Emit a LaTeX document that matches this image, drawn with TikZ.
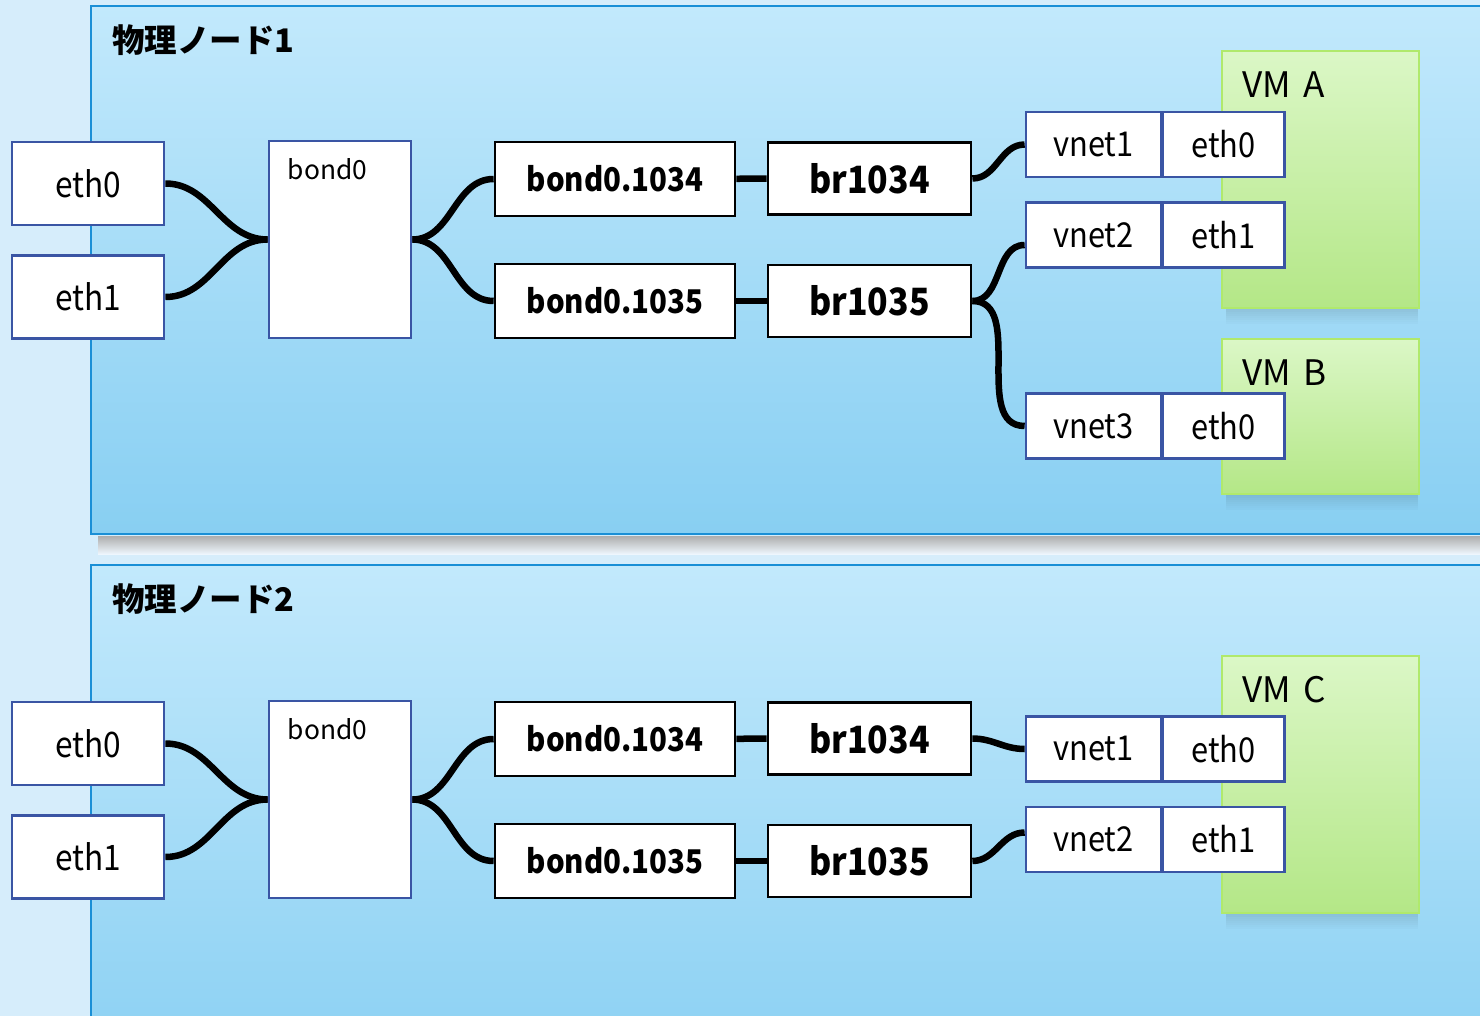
\documentclass[tikz,border=0pt]{standalone}
\usepackage{fontspec}
\setmainfont{Noto Sans CJK JP}
\newfontfamily\narrowsans[FakeStretch=0.9]{Noto Sans CJK JP}
\usepackage{xcolor}
\usepackage{tikz}
\usetikzlibrary{positioning}
\definecolor{pagebg}{HTML}{D6EDFB}
\definecolor{pagebgb}{HTML}{EEF6FD}
\definecolor{panelc}{HTML}{1A8FD6}
\definecolor{paneltop}{HTML}{C2E9FC}
\definecolor{panelbot}{HTML}{88CFF2}
\definecolor{vmtop}{HTML}{DBF7C6}
\definecolor{vmbot}{HTML}{B4E787}
\definecolor{vmline}{HTML}{B0E96C}
\definecolor{portc}{HTML}{3A55A4}
\tikzset{
  panel/.style={draw=panelc,line width=1.2pt,top color=paneltop,bottom color=panelbot},
  ttl/.style={anchor=west,inner sep=0pt,font=\bfseries\fontsize{18.5}{22}\selectfont},
  port/.style={draw=portc,line width=1.6pt,fill=white,inner sep=0pt,minimum width=3.04cm,minimum height=1.66cm,font=\narrowsans\fontsize{20}{24}\selectfont},
  bondbox/.style={draw=portc,line width=1.6pt,fill=white,minimum width=2.84cm,minimum height=3.94cm},
  vlan/.style={draw=black,line width=1.6pt,fill=white,inner sep=0pt,minimum width=4.8cm,minimum height=1.48cm,font=\narrowsans\bfseries\fontsize{18.6}{22}\selectfont},
  brbox/.style={draw=black,line width=1.6pt,fill=white,inner sep=0pt,minimum width=4.06cm,minimum height=1.44cm,font=\narrowsans\bfseries\fontsize{21.4}{25}\selectfont},
  vnet/.style={draw=portc,line width=1.6pt,fill=white,inner sep=0pt,minimum width=2.7cm,minimum height=1.3cm,font=\narrowsans\fontsize{19.5}{23}\selectfont},
  veth/.style={vnet,minimum width=2.44cm},
  vmbox/.style={draw=vmline,line width=1.2pt,top color=vmtop,bottom color=vmbot,minimum width=3.94cm},
  vmlab/.style={anchor=north west,inner sep=0pt,xshift=0.42cm,yshift=-0.42cm,font=\fontsize{20}{24}\selectfont},
  wire/.style={line width=3.7pt,black}
}
\begin{document}
\begin{tikzpicture}[x=0.02cm,y=-0.02cm]
\useasboundingbox (0,0) rectangle (1480,1016);
\clip (0,0) rectangle (1480,1016);
\shade[top color=pagebg,middle color=pagebgb,bottom color=pagebg] (0,0) rectangle (1480,1016);
% physical nodes
\foreach \p/\dy in {1/0,2/559}{
 \shade[top color=black!32,bottom color=pagebgb] (98,536+\dy) rectangle (1490,554+\dy);
 \draw[panel] (91,6+\dy) rectangle (1500,534+\dy);
 \node[ttl] (title\p) at (112,40+\dy) {物理ノード\p};}
% VM boxes
\foreach \yy in {308,494,913}{
 \foreach \k in {0,...,7}
  \fill[black,opacity={0.11*(1-\k/8)}] (1226,\yy+2*\k) rectangle (1418,\yy+2*\k+2);}
\node[vmbox,minimum height=5.14cm,label={[vmlab]north west:VM\hspace{0.35em}A}] (vma) at (1320.5,179.5) {};
\node[vmbox,minimum height=3.10cm,label={[vmlab]north west:VM\hspace{0.35em}B}] (vmb) at (1320.5,416.5) {};
\node[vmbox,minimum height=5.14cm,label={[vmlab]north west:VM\hspace{0.35em}C}] (vmc) at (1320.5,784.5) {};
% host side
\foreach \p/\dy in {1/0,2/560}{
 \node[port] (eth0-\p) at (88,183.5+\dy) {eth0};
 \node[port] (eth1-\p) at (88,297+\dy) {eth1};
 \node[bondbox,label={[anchor=north west,inner sep=0pt,xshift=0.4cm,yshift=-0.38cm,font=\fontsize{15}{18}\selectfont]north west:bond0}] (bond-\p) at (340,239.5+\dy) {};
 \node[vlan] (v34-\p) at (615,179+\dy) {bond0.1034};
 \node[vlan] (v35-\p) at (615,301+\dy) {bond0.1035};
 \node[brbox] (br34-\p) at (869.5,178.5+\dy) {br1034};
 \node[brbox] (br35-\p) at (869.5,301+\dy) {br1035};
 \draw[wire] (eth0-\p.east) to[out=0,in=180] (bond-\p.west);
 \draw[wire] (eth1-\p.east) to[out=0,in=180] (bond-\p.west);
 \draw[wire] (bond-\p.east) to[out=0,in=180] (v34-\p.west);
 \draw[wire] (bond-\p.east) to[out=0,in=180] (v35-\p.west);
 \draw[wire] (v34-\p) -- (br34-\p);
 \draw[wire] (v35-\p) -- (br35-\p);}
% guest ports
\node[vnet] (vn1a) at (1093.5,144.5) {vnet1};
\node[veth,right=-0.8pt of vn1a] (ea0) {eth0};
\node[vnet] (vn2a) at (1093.5,235) {vnet2};
\node[veth,right=-0.8pt of vn2a] (ea1) {eth1};
\node[vnet] (vn3b) at (1093.5,426) {vnet3};
\node[veth,right=-0.8pt of vn3b] (eb0) {eth0};
\node[vnet] (vn1c) at (1093.5,749) {vnet1};
\node[veth,right=-0.8pt of vn1c] (ec0) {eth0};
\node[vnet] (vn2c) at (1093.5,839.5) {vnet2};
\node[veth,right=-0.8pt of vn2c] (ec1) {eth1};
\draw[wire] (br34-1.east) to[out=0,in=180] (vn1a.west);
\draw[wire] (br35-1.east) to[out=0,in=180] ([yshift=-0.2cm]vn2a.west);
\draw[wire] (br35-1.east) to[out=0,in=180] (vn3b.west);
\draw[wire] (br34-2.east) to[out=0,in=180] (vn1c.west);
\draw[wire] (br35-2.east) to[out=0,in=180] ([yshift=0.14cm]vn2c.west);
\end{tikzpicture}
\end{document}
